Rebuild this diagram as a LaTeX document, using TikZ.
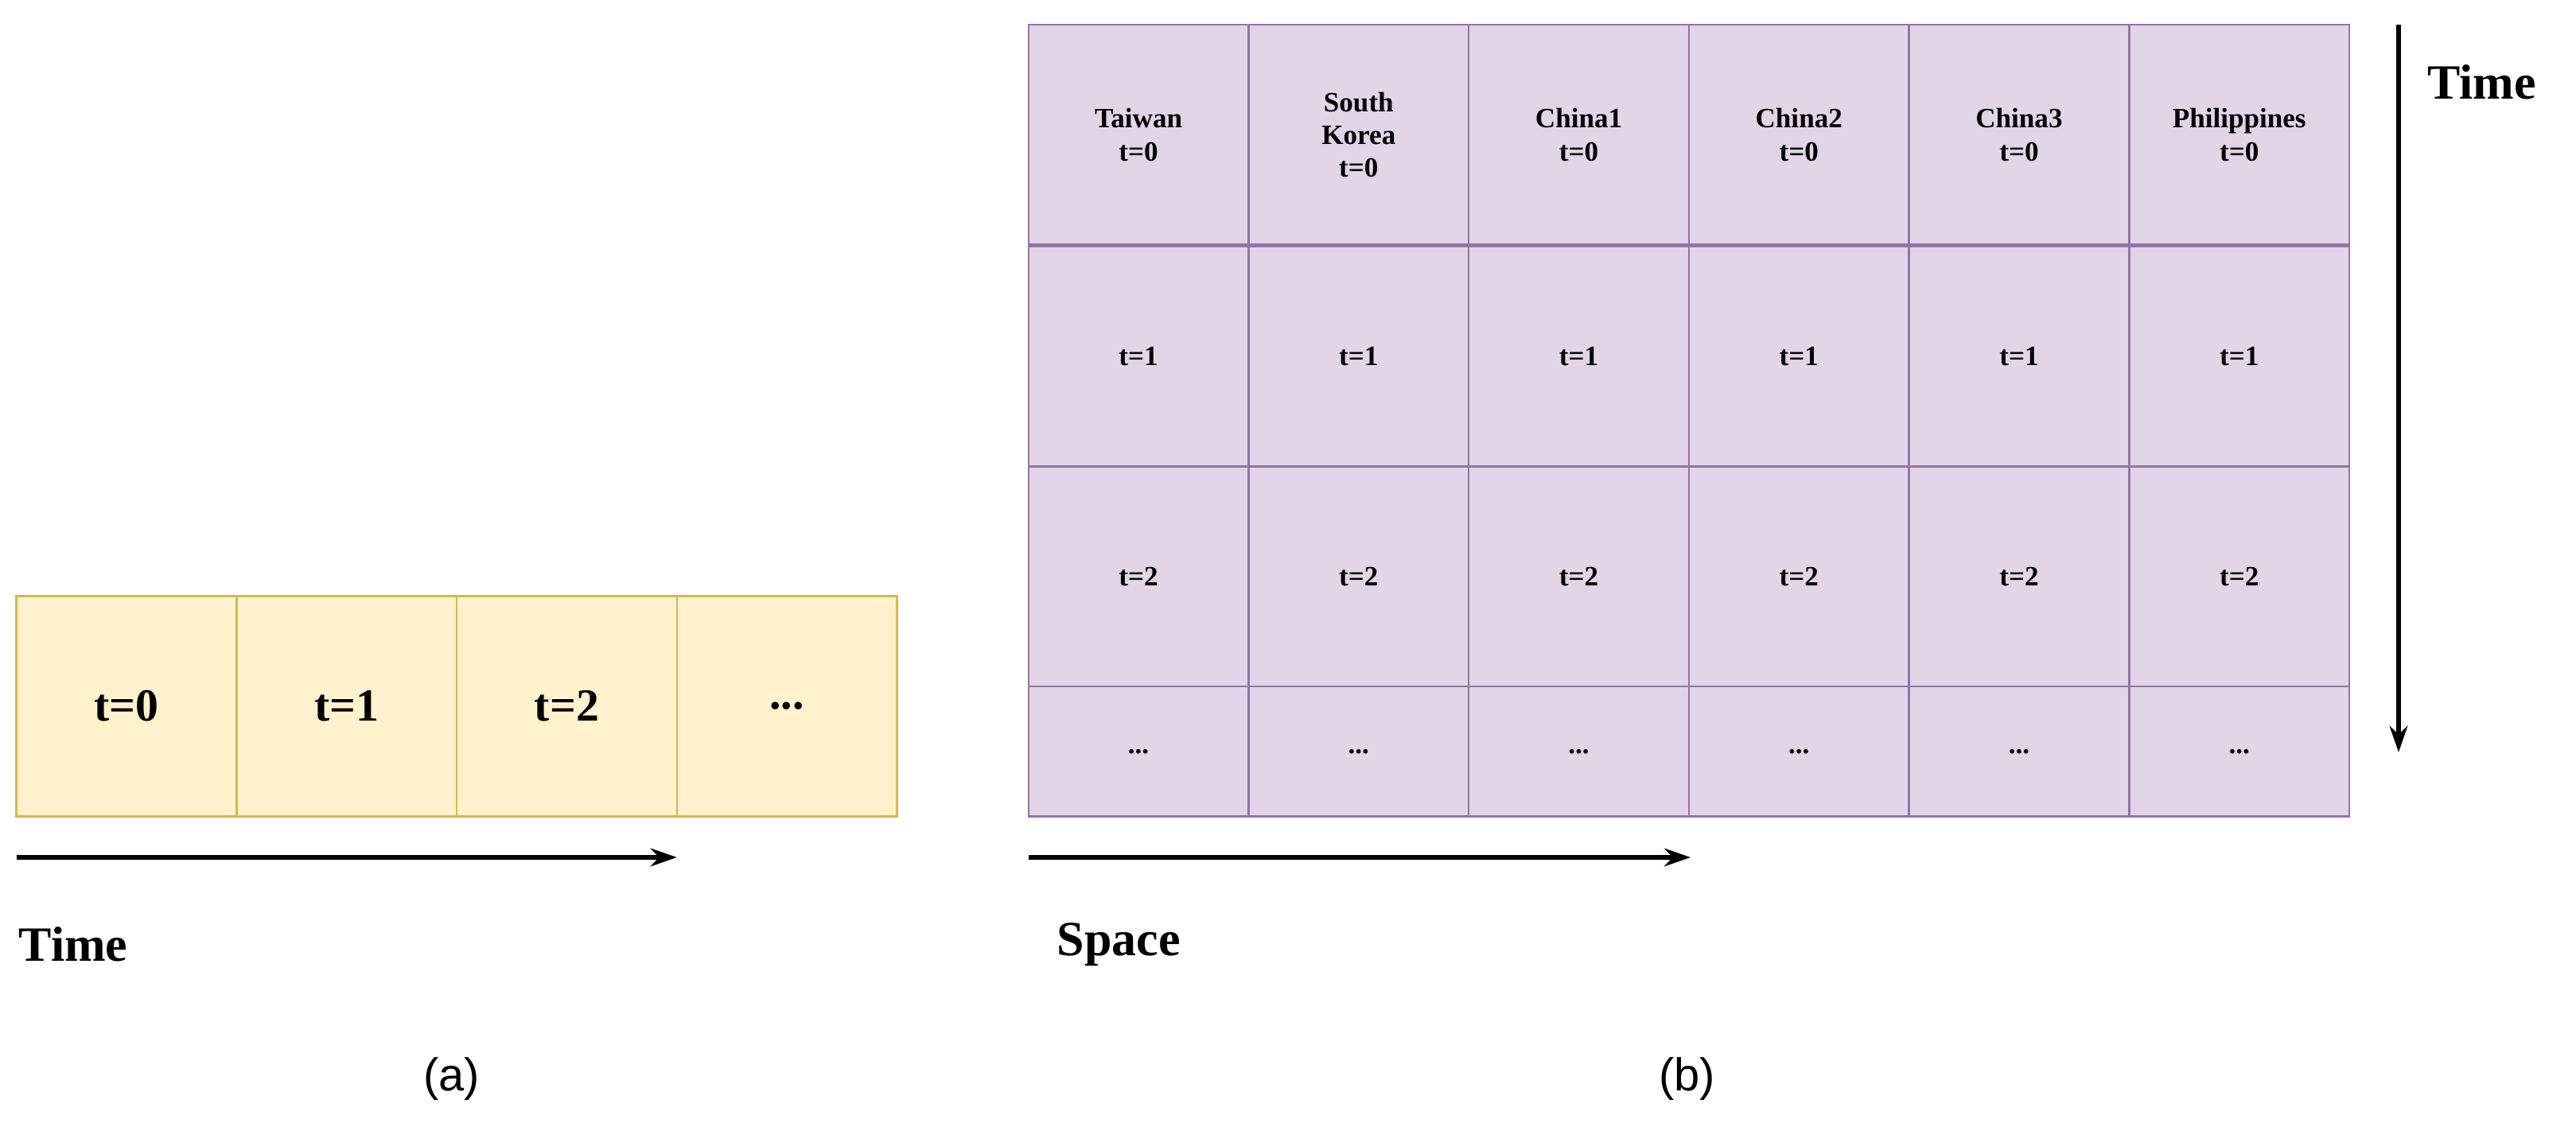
\documentclass[tikz,border=0pt]{standalone}
\usepackage{fontspec}
\setmainfont{Liberation Serif}
\newfontfamily\sansf{Liberation Sans}
\usetikzlibrary{arrows.meta}
\definecolor{yfill}{HTML}{FFF2CC}\definecolor{ydraw}{HTML}{D6B656}
\definecolor{pfill}{HTML}{E1D5E7}\definecolor{pdraw}{HTML}{9673A6}
\begin{document}
\begin{tikzpicture}[x=1pt,y=-1pt,
 ycell/.style={draw=ydraw,fill=yfill,line width=1.2pt,minimum width=134pt,minimum height=134pt,inner sep=0pt,font=\fontsize{28}{30}\selectfont\bfseries},
 pcell/.style={draw=pdraw,fill=pfill,line width=1.2pt,minimum width=134pt,inner sep=0pt,align=center,font=\fontsize{17}{20}\selectfont\bfseries},
 arr/.style={-{Stealth[length=16pt,width=11pt]},line width=2.5pt},
 lab/.style={font=\fontsize{30}{32}\selectfont\bfseries,anchor=west},
 captn/.style={font=\sansf\fontsize{28}{30}\selectfont}]
\useasboundingbox (0,0) rectangle (1568,686);
\node[ycell] (a0) at (77,430) {t=0};
\node[ycell] (a1) at (211,430) {t=1};
\node[ycell] (a2) at (345,430) {t=2};
\node[ycell] (a3) at (479,430) {...};
\coordinate (as) at (10,522); \coordinate (ae) at (412,522);
\draw[arr] (as) -- (ae);
\node[lab] (tl) at (8,575) {Time};
\node[captn] (ca) at (275,657) {(a)};
\foreach \n [count=\i from 0] in {{Taiwan\\t=0},{South\\Korea\\t=0},{China1\\t=0},{China2\\t=0},{China3\\t=0},{Philippines\\t=0}}{
  \node[pcell,minimum height=134pt] (r0c\i) at (693+134*\i,82) {\n};
  \node[pcell,minimum height=134pt] (r1c\i) at (693+134*\i,217) {t=1};
  \node[pcell,minimum height=134pt] (r2c\i) at (693+134*\i,351) {t=2};
  \node[pcell,minimum height=79pt] (r3c\i) at (693+134*\i,457.5) {{...}};
}
\coordinate (ss) at (626,522); \coordinate (se) at (1029,522);
\draw[arr] (ss) -- (se);
\node[lab] (sl) at (640,575) {Space};
\coordinate (ts) at (1460,15); \coordinate (te) at (1460,458);
\draw[arr] (ts) -- (te);
\node[lab] (tr) at (1474,50) {Time};
\node[captn] (cb) at (1027,657) {(b)};
\end{tikzpicture}
\end{document}
